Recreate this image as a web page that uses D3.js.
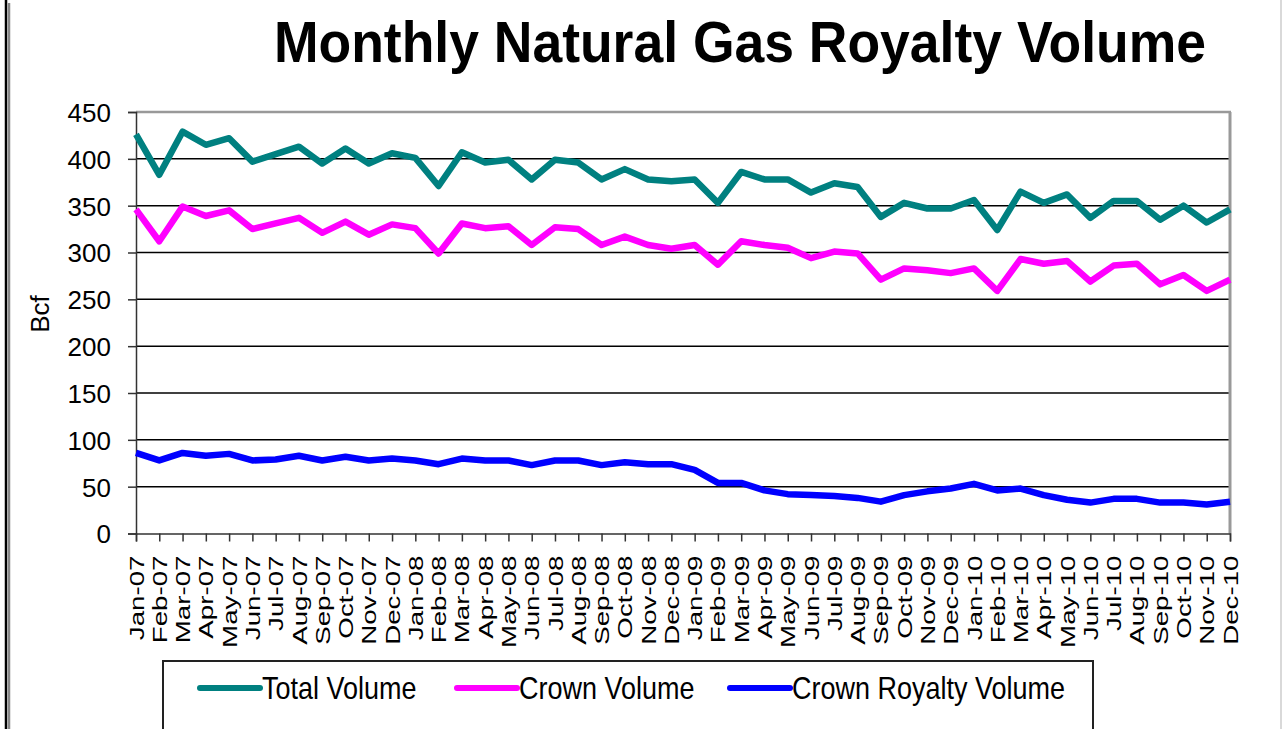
<!DOCTYPE html>
<html>
<head>
<meta charset="utf-8">
<script src="https://cdn.jsdelivr.net/npm/d3@7"></script>
<style>
  html, body { margin: 0; padding: 0; background: #fff; }
  svg { display: block; }
  text { font-family: "Liberation Sans", Arial, sans-serif; fill: #000; }
</style>
</head>
<body>
<svg id="chart" width="1287" height="729"></svg>
<script>
const months = ["Jan-07","Feb-07","Mar-07","Apr-07","May-07","Jun-07","Jul-07","Aug-07","Sep-07","Oct-07","Nov-07","Dec-07",
  "Jan-08","Feb-08","Mar-08","Apr-08","May-08","Jun-08","Jul-08","Aug-08","Sep-08","Oct-08","Nov-08","Dec-08",
  "Jan-09","Feb-09","Mar-09","Apr-09","May-09","Jun-09","Jul-09","Aug-09","Sep-09","Oct-09","Nov-09","Dec-09",
  "Jan-10","Feb-10","Mar-10","Apr-10","May-10","Jun-10","Jul-10","Aug-10","Sep-10","Oct-10","Nov-10","Dec-10"];

const totalVolume = [426, 383, 429, 415, 422, 397, 405, 413, 395, 411, 395, 406,
  401, 371, 407, 396, 399, 378, 399, 396, 378, 389, 378, 376,
  378, 353, 386, 378, 378, 364, 374, 370, 338, 353, 347, 347,
  356, 324, 365, 353, 362, 337, 355, 355, 335, 350, 332, 346];

const crownVolume = [346, 312, 349, 339, 345, 325, 331, 337, 321, 333, 319, 330,
  326, 299, 331, 326, 328, 308, 327, 325, 308, 317, 308, 304,
  308, 287, 312, 308, 305, 294, 301, 299, 271, 283, 281, 278,
  283, 259, 293, 288, 291, 269, 286, 288, 266, 276, 259, 271];

const crownRoyaltyVolume = [86, 78, 86, 83, 85, 78, 79, 83, 78, 82, 78, 80,
  78, 74, 80, 78, 78, 73, 78, 78, 73, 76, 74, 74,
  68, 54, 54, 46, 42, 41, 40, 38, 34, 41, 45, 48,
  53, 46, 48, 41, 36, 33, 37, 37, 33, 33, 31, 34];

const yTicks = [0, 50, 100, 150, 200, 250, 300, 350, 400, 450];
const seriesNames = ["Total Volume", "Crown Volume", "Crown Royalty Volume"];
const seriesColors = ["#008080", "#FF00FF", "#0000FF"];
const titleText = "Monthly Natural Gas Royalty Volume";
const yAxisTitle = "Bcf";

const svg = d3.select("#chart");
const L = 136, R = 1230, T = 112, B = 533.5;

const x = d3.scalePoint().domain(months).range([L, R]);
const y = d3.scaleLinear().domain([0, 450]).range([B, T]);

// outer frame lines
svg.append("line").attr("x1", 6).attr("x2", 6).attr("y1", 0).attr("y2", 729).attr("stroke", "#000").attr("stroke-width", 2.5);
svg.append("line").attr("x1", 9).attr("x2", 9).attr("y1", 3).attr("y2", 729).attr("stroke", "#888").attr("stroke-width", 2.5);
svg.append("line").attr("x1", 1281).attr("x2", 1281).attr("y1", 0).attr("y2", 729).attr("stroke", "#ccc").attr("stroke-width", 1.5);

// title
svg.append("text")
  .attr("transform", "translate(740,62) scale(1,1.06)")
  .attr("text-anchor", "middle")
  .style("font-size", "53.5px").style("font-weight", "bold")
  .text(titleText);

// gridlines
const grid = svg.append("g");
grid.selectAll("line").data(yTicks.filter(d => d > 0 && d < 450)).join("line")
  .attr("x1", L).attr("x2", R)
  .attr("y1", d => y(d)).attr("y2", d => y(d))
  .attr("stroke", "#000").attr("stroke-width", 1.5);

// plot border top and right (gray)
svg.append("line").attr("x1", L).attr("x2", R + 1).attr("y1", y(450)).attr("y2", y(450)).attr("stroke", "#999").attr("stroke-width", 2.5);
svg.append("line").attr("x1", R).attr("x2", R).attr("y1", y(450)).attr("y2", B).attr("stroke", "#999").attr("stroke-width", 3);

// y axis
const yAxis = svg.append("g").attr("transform", `translate(${L},0)`)
  .call(d3.axisLeft(y).tickValues(yTicks).tickSize(8).tickPadding(17).tickFormat(d3.format("d")));
yAxis.select(".domain").attr("stroke", "#333").attr("stroke-width", 1.5);
yAxis.selectAll(".tick line").attr("stroke", "#333").attr("stroke-width", 1.5);
yAxis.selectAll(".tick text").style("font-size", "26px").style("font-family", "'Liberation Sans', Arial, sans-serif").attr("fill", "#000").attr("dy", "0.36em");

// x axis
const xAxis = svg.append("g").attr("transform", `translate(0,${B})`)
  .call(d3.axisBottom(x).tickSize(8).tickFormat(""));
xAxis.select(".domain").attr("stroke", "#333").attr("stroke-width", 1.5);
xAxis.selectAll(".tick line").attr("stroke", "#333").attr("stroke-width", 1.5);

// x labels rotated
svg.append("g").selectAll("text").data(months).join("text")
  .attr("transform", d => `translate(${x(d)},${B + 22}) rotate(-90) scale(1.32,1)`)
  .attr("text-anchor", "end")
  .attr("dy", "0.36em")
  .style("font-size", "21px")
  .text(d => d);

// y axis title
svg.append("text")
  .attr("transform", "translate(40,314) rotate(-90)")
  .attr("text-anchor", "middle")
  .attr("dy", "0.36em")
  .style("font-size", "26px")
  .text(yAxisTitle);

// lines
const allSeries = [totalVolume, crownVolume, crownRoyaltyVolume];
const line = d3.line().x((d, i) => x(months[i])).y(d => y(d));
svg.append("g").selectAll("path").data(allSeries).join("path")
  .attr("d", d => line(d))
  .attr("fill", "none")
  .attr("stroke", (d, i) => seriesColors[i])
  .attr("stroke-width", 6.5)
  .attr("stroke-linejoin", "round");

// legend
const lg = svg.append("g");
lg.append("path").attr("d", "M163,740 L163,661 L1093,661 L1093,740")
  .attr("fill", "none").attr("stroke", "#222").attr("stroke-width", 2);
const legendX = [200, 457, 730];
const legendItems = lg.selectAll("g").data(seriesNames).join("g")
  .attr("transform", (d, i) => `translate(${legendX[i]},688)`);
legendItems.append("line").attr("x1", 0).attr("x2", 60).attr("y1", 0).attr("y2", 0)
  .attr("stroke", (d, i) => seriesColors[i]).attr("stroke-width", 6).attr("stroke-linecap", "round");
legendItems.append("text")
  .attr("transform", "translate(62,0) scale(1,1.15)")
  .attr("dy", "0.36em")
  .style("font-size", "27px")
  .text(d => d);
</script>
</body>
</html>
